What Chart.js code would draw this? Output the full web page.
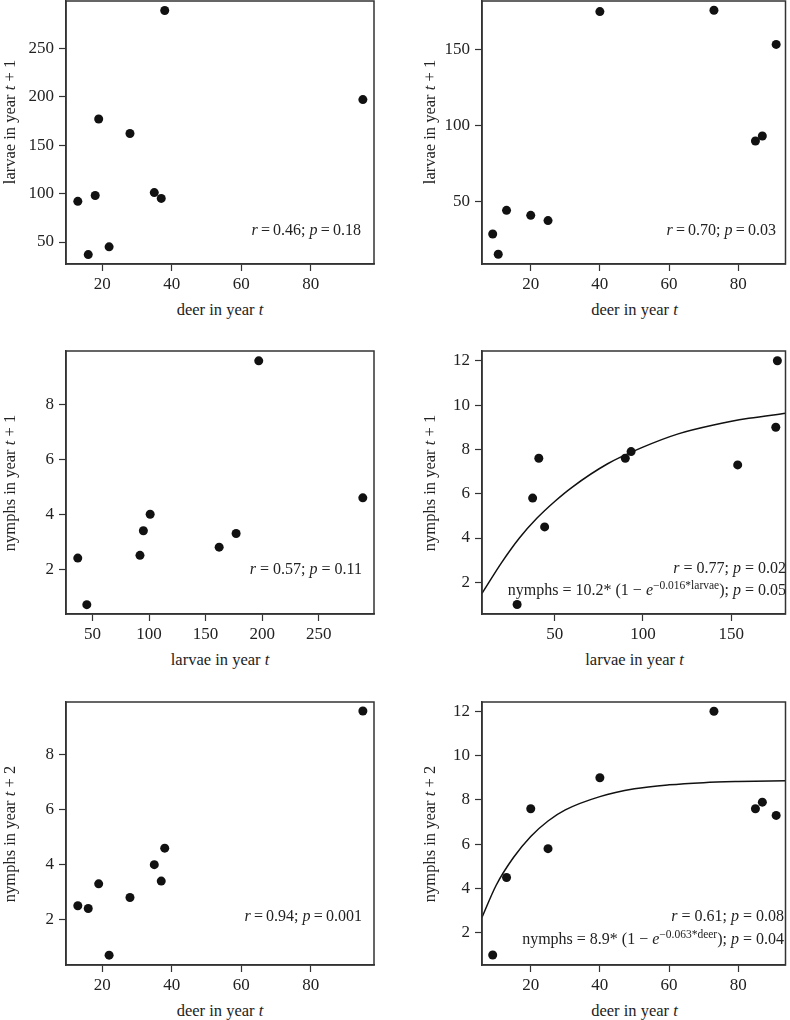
<!DOCTYPE html>
<html>
<head>
<meta charset="utf-8">
<script src="https://cdn.jsdelivr.net/npm/chart.js@4.4.0/dist/chart.umd.min.js"></script>
<style>
  html, body { margin: 0; padding: 0; background: #fff; overflow: hidden; }
  body { width: 790px; height: 1020px; position: relative; font-family: "Liberation Serif", "DejaVu Serif", serif; color: #222; }
  canvas { position: absolute; }
  .lbl { position: absolute; font-size: 16.5px; line-height: 18px; white-space: nowrap; }
  .xt { transform: translate(-50%, -50%); }
  .yt { transform: translate(-50%, -50%) rotate(-90deg); }
  .note { text-align: right; }
  .note sup { font-size: 11.5px; vertical-align: 6px; line-height: 0; }
</style>
</head>
<body>
<canvas id="p1"></canvas><canvas id="p2"></canvas>
<canvas id="p3"></canvas><canvas id="p4"></canvas>
<canvas id="p5"></canvas><canvas id="p6"></canvas>
<script>
// left column: deer(t) -> larvae(t+1)
const deerA = [13, 16, 18, 19, 22, 28, 35, 37, 38, 95];
const larvaeNextA = [92, 37, 98, 177, 45, 162, 101, 95, 289, 197];
// left column: larvae(t) -> nymphs(t+1)
const larvaeA = [37, 45, 92, 95, 101, 162, 177, 197, 289];
const nymphsNextA = [2.4, 0.7, 2.5, 3.4, 4.0, 2.8, 3.3, 9.6, 4.6];
// left column: deer(t) -> nymphs(t+2)
const deer2A = [13, 16, 19, 22, 28, 35, 37, 38, 95];
const nymphs2A = [2.5, 2.4, 3.3, 0.7, 2.8, 4.0, 3.4, 4.6, 9.6];

// right column
const deerB = [9, 10.6, 13, 20, 25, 40, 73, 85, 87, 91];
const larvaeNextB = [28.7, 15.3, 44.3, 41, 37.5, 175.3, 176.2, 90, 93.3, 153.7];
const larvaeB = [28.7, 37.5, 41, 44.3, 90, 93.3, 153.7, 175.3, 176.2];
const nymphsNextB = [1.0, 5.8, 7.6, 4.5, 7.6, 7.9, 7.3, 9.0, 12.0];
const deer2B = [9, 13, 20, 25, 40, 73, 85, 87, 91];
const nymphs2B = [1.0, 4.5, 7.6, 5.8, 9.0, 12.0, 7.6, 7.9, 7.3];

// fitted curves
const fitLarvaeX = [8.8, 20, 30, 40, 50, 60, 80, 100, 120, 140, 160, 181];
const fitLarvaeY = [1.5, 2.9, 4.0, 4.9, 5.65, 6.3, 7.35, 8.1, 8.7, 9.1, 9.4, 9.63];
const fitDeerX = [5.9, 10, 15, 20, 25, 30, 40, 50, 60, 70, 80, 94];
const fitDeerY = [2.7, 4.15, 5.4, 6.35, 7.05, 7.55, 8.15, 8.5, 8.68, 8.78, 8.83, 8.87];

// tick labels
const ticksDeer = [20, 40, 60, 80];
const ticksLarvaeA = [50, 100, 150, 200, 250];
const ticksLarvaeB = [50, 100, 150];
const ticksNymphsA = [2, 4, 6, 8];
const ticksNymphsB = [2, 4, 6, 8, 10, 12];

const cols = [
  { L: 0, W: 395, boxL: 66, boxR: 374 },
  { L: 395, W: 395, boxL: 482, boxR: 787 }
];
// top row canvas starts above the page so its frame can sit at y=1
const rows = [
  { T: -4, H: 304, boxT: 1, boxB: 264 },
  { T: 330, H: 320, boxT: 351, boxB: 614 },
  { T: 680, H: 320, boxT: 702, boxB: 965 }
];

const pts = (xs, ys) => xs.map((x, i) => ({ x: x, y: ys[i] }));

const panels = [
  { id: 'p1', c: 0, r: 0, xs: deerA, ys: larvaeNextA, xlim: [9.6, 98.2], ylim: [27.3, 298.8], xt: ticksDeer, yt: ticksLarvaeA,
    xtitle: 'deer in year <i>t</i>', ytitle: 'larvae in year <i>t</i> + 1', ytY: 122 },
  { id: 'p2', c: 1, r: 0, xs: deerB, ys: larvaeNextB, xlim: [5.9, 93.7], ylim: [8.9, 182.3], xt: ticksDeer, yt: ticksLarvaeB,
    xtitle: 'deer in year <i>t</i>', ytitle: 'larvae in year <i>t</i> + 1', ytY: 122 },
  { id: 'p3', c: 0, r: 1, xs: larvaeA, ys: nymphsNextA, xlim: [26.6, 298.9], ylim: [0.36, 9.96], xt: ticksLarvaeA, yt: ticksNymphsA,
    xtitle: 'larvae in year <i>t</i>', ytitle: 'nymphs in year <i>t</i> + 1' },
  { id: 'p4', c: 1, r: 1, xs: larvaeB, ys: nymphsNextB, xlim: [8.8, 180.8], ylim: [0.57, 12.44], xt: ticksLarvaeB, yt: ticksNymphsB,
    fx: fitLarvaeX, fy: fitLarvaeY, xtitle: 'larvae in year <i>t</i>', ytitle: 'nymphs in year <i>t</i> + 1' },
  { id: 'p5', c: 0, r: 2, xs: deer2A, ys: nymphs2A, xlim: [9.6, 98.2], ylim: [0.34, 9.93], xt: ticksDeer, yt: ticksNymphsA,
    xtitle: 'deer in year <i>t</i>', ytitle: 'nymphs in year <i>t</i> + 2' },
  { id: 'p6', c: 1, r: 2, xs: deer2B, ys: nymphs2B, xlim: [5.9, 93.7], ylim: [0.55, 12.42], xt: ticksDeer, yt: ticksNymphsB,
    fx: fitDeerX, fy: fitDeerY, xtitle: 'deer in year <i>t</i>', ytitle: 'nymphs in year <i>t</i> + 2' }
];

const notes = [
  { right: 361, cy: 230, html: '<i>r</i>\u2009=\u20090.46; <i>p</i>\u2009=\u20090.18' },
  { right: 776, cy: 230, html: '<i>r</i>\u2009=\u20090.70; <i>p</i>\u2009=\u20090.03' },
  { right: 362, cy: 569, html: '<i>r</i> = 0.57; <i>p</i> = 0.11' },
  { right: 786, cy: 568, html: '<i>r</i> = 0.77; <i>p</i> = 0.02' },
  { right: 786, cy: 590, html: 'nymphs = 10.2* (1 \u2212 <i>e</i><sup>\u22120.016*larvae</sup>); <i>p</i> = 0.05' },
  { right: 362, cy: 916, html: '<i>r</i>\u2009=\u20090.94; <i>p</i>\u2009=\u20090.001' },
  { right: 784, cy: 916, html: '<i>r</i> = 0.61; <i>p</i> = 0.08' },
  { right: 784, cy: 939, html: 'nymphs = 8.9* (1 \u2212 <i>e</i><sup>\u22120.063*deer</sup>); <i>p</i> = 0.04' }
];

// draws the full frame round the plot area
const boxPlugin = {
  id: 'box',
  afterDatasetsDraw(chart) {
    const a = chart.chartArea, ctx = chart.ctx;
    ctx.save();
    ctx.strokeStyle = '#333';
    ctx.lineWidth = 1.5;
    ctx.strokeRect(a.left, a.top, a.right - a.left, a.bottom - a.top);
    ctx.restore();
  }
};

const tickFont = { family: '"Liberation Serif", serif', size: 17 };

function addLabel(cls, html, x, y) {
  const d = document.createElement('div');
  d.className = 'lbl ' + cls;
  d.innerHTML = html;
  d.style.left = x + 'px';
  d.style.top = y + 'px';
  document.body.appendChild(d);
}

panels.forEach(p => {
  const col = cols[p.c], row = rows[p.r];
  const cv = document.getElementById(p.id);
  cv.width = col.W; cv.height = row.H;
  cv.style.left = col.L + 'px'; cv.style.top = row.T + 'px';
  cv.style.width = col.W + 'px'; cv.style.height = row.H + 'px';

  const datasets = [{
    data: pts(p.xs, p.ys),
    pointRadius: 4.5,
    pointBackgroundColor: '#111',
    pointBorderWidth: 0,
    showLine: false
  }];
  if (p.fx) {
    datasets.push({
      data: pts(p.fx, p.fy),
      showLine: true,
      pointRadius: 0,
      borderColor: '#111',
      borderWidth: 1.5,
      cubicInterpolationMode: 'monotone'
    });
  }

  new Chart(cv, {
    type: 'scatter',
    data: { datasets: datasets },
    options: {
      responsive: false,
      animation: false,
      devicePixelRatio: 1,
      layout: { padding: { top: row.boxT - row.T, right: col.L + col.W - col.boxR, left: 0, bottom: 0 } },
      plugins: { legend: { display: false }, tooltip: { enabled: false } },
      scales: {
        x: {
          type: 'linear', min: p.xlim[0], max: p.xlim[1],
          afterBuildTicks: s => { s.ticks = p.xt.map(v => ({ value: v })); },
          afterFit: s => { s.height = row.T + row.H - row.boxB; s.paddingLeft = 0; s.paddingRight = 0; },
          ticks: { font: tickFont, color: '#222', padding: 3, maxRotation: 0 },
          grid: { drawOnChartArea: false, drawTicks: true, tickLength: 7, tickColor: '#333', tickWidth: 1.2 },
          border: { display: true, color: '#333', width: 1.5 }
        },
        y: {
          type: 'linear', min: p.ylim[0], max: p.ylim[1],
          afterBuildTicks: s => { s.ticks = p.yt.map(v => ({ value: v })); },
          afterFit: s => { s.width = col.boxL - col.L; s.paddingTop = 0; s.paddingBottom = 0; },
          ticks: { font: tickFont, color: '#222', padding: 5 },
          grid: { drawOnChartArea: false, drawTicks: true, tickLength: 7, tickColor: '#333', tickWidth: 1.2 },
          border: { display: true, color: '#333', width: 1.5 }
        }
      }
    },
    plugins: [boxPlugin]
  });

  const cx = (col.boxL + col.boxR) / 2;
  addLabel('xt', p.xtitle, cx, row.boxB + 46);
  const ytX = p.c === 0 ? 10 : 430;
  const ytY = p.ytY || (row.boxT + row.boxB) / 2;
  addLabel('yt', p.ytitle, ytX, ytY);
});

notes.forEach(n => {
  const d = document.createElement('div');
  d.className = 'lbl note';
  d.innerHTML = n.html;
  d.style.fontSize = '16px';
  d.style.right = (790 - n.right) + 'px';
  d.style.top = (n.cy - 9) + 'px';
  document.body.appendChild(d);
});
</script>
</body>
</html>
